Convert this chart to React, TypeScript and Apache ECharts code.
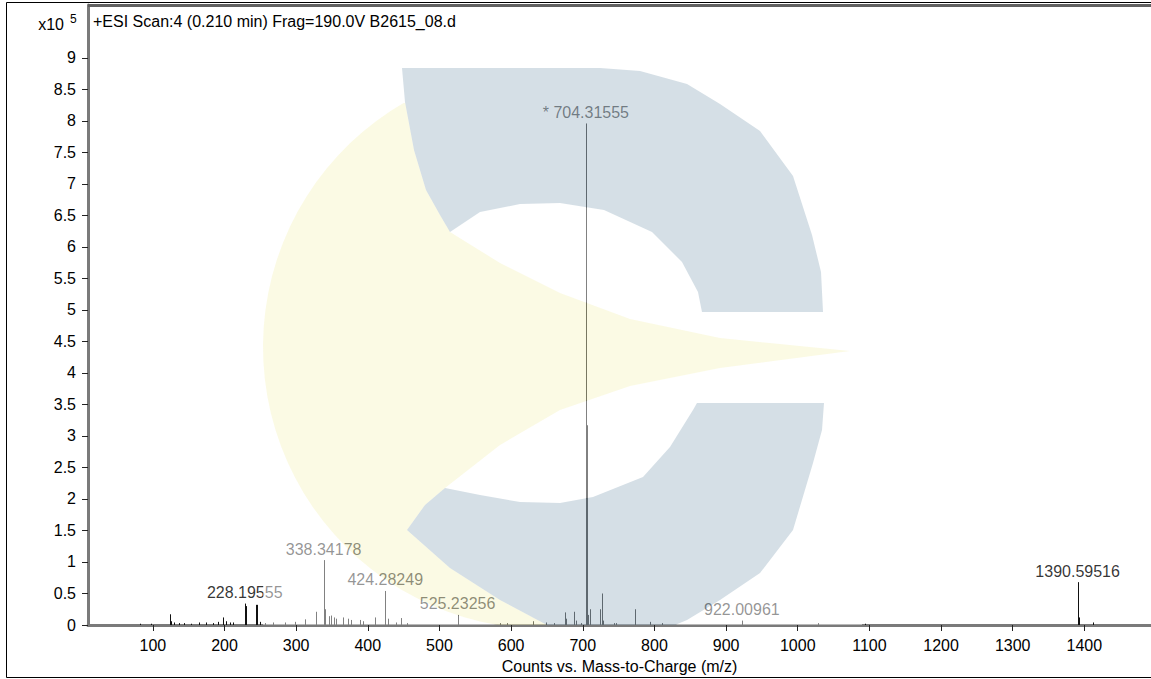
import React, { useEffect, useRef } from "react";
import * as echarts from "echarts";

// m/z positions of the centroid peaks and their intensities (x10^5 counts)
const peakMz = [
  81.4, 97.8, 123.3, 125.7, 130, 137, 144, 153, 165, 174.6, 183.8, 190.8, 197.8, 202.5, 207, 211.7,
  228.2, 230.2, 243.4, 245.3, 249, 256, 267.6, 284, 298, 312, 328, 338.34, 340.8, 345.8, 349, 352.8,
  356, 365, 372, 377, 388.7, 393, 409.6, 424.28, 428, 440, 447, 454, 525.23, 584, 593.6, 630, 649, 660,
  675, 677, 688, 690, 697, 704.32, 705.3, 707.5, 710, 724.3, 726.7, 728.5, 744, 747, 772.3, 793.7, 810,
  922.01, 1028, 1094, 1390.6, 1391.6, 1392.6, 1412,
];
const peakIntensity = [
  0.02, 0.02, 0.17, 0.06, 0.04, 0.03, 0.03, 0.02, 0.04, 0.04, 0.03, 0.05, 0.12, 0.06, 0.04, 0.04,
  0.34, 0.3, 0.32, 0.32, 0.05, 0.03, 0.04, 0.04, 0.05, 0.09, 0.21, 1.03, 0.25, 0.14, 0.15, 0.12,
  0.1, 0.12, 0.1, 0.08, 0.08, 0.06, 0.12, 0.54, 0.1, 0.04, 0.11, 0.03, 0.16, 0.03, 0.03, 0.06, 0.04, 0.03,
  0.2, 0.1, 0.21, 0.07, 0.03, 7.96, 3.17, 0.16, 0.25, 0.25, 0.5, 0.07, 0.03, 0.03, 0.25, 0.05, 0.03,
  0.07, 0.03, 0.02, 0.68, 0.57, 0.12, 0.04,
];

// labelled peaks
const labelMz = [228.2, 338.34, 424.28, 525.23, 704.32, 922.01, 1390.6];
const labelIntensity = [0.34, 1.03, 0.54, 0.16, 7.96, 0.07, 0.68];
const labelText = ["228.19555", "338.34178", "424.28249", "525.23256", "* 704.31555", "922.00961", "1390.59516"];

const yTicks = [0, 0.5, 1, 1.5, 2, 2.5, 3, 3.5, 4, 4.5, 5, 5.5, 6, 6.5, 7, 7.5, 8, 8.5, 9];
const xTicks = [100, 200, 300, 400, 500, 600, 700, 800, 900, 1000, 1100, 1200, 1300, 1400];

const titleText = "+ESI Scan:4 (0.210 min) Frag=190.0V B2615_08.d";
const xAxisName = "Counts vs. Mass-to-Charge (m/z)";

const FONT = 'Arial, "Liberation Sans", sans-serif';

// ---------- watermark decoration (pixel space) ----------
type P = number[];
function arc(cx: number, cy: number, r: number, a0: number, a1: number, n: number): P[] {
  const pts: P[] = [];
  for (let i = 0; i <= n; i++) {
    const a = ((a0 + ((a1 - a0) * i) / n) * Math.PI) / 180;
    pts.push([cx + r * Math.cos(a), cy + r * Math.sin(a)]);
  }
  return pts;
}
const box = [
  [263, 68],
  [862, 68],
  [862, 625],
  [263, 625],
];
const blueTopLeftEdge = [
  [405, 102],
  [414, 150],
  [426, 190],
  [440, 215],
  [450, 232],
];
const tailUpper = [
  [500, 263],
  [560, 293],
  [630, 319],
  [720, 338],
  [850, 351],
];
const tailLower = [
  [720, 368],
  [630, 386],
  [560, 410],
  [500, 445],
  [445, 488],
];
const blueBottomLeftEdge = [
  [425, 505],
  [407, 530],
  [450, 568],
  [500, 600],
  [547, 625],
];
const yellowShape: P[] = [
  ...blueTopLeftEdge,
  ...tailUpper,
  ...tailLower,
  ...blueBottomLeftEdge,
  ...arc(545, 347, 282, 99.6, 240.3, 40),
];
const blueTop: P[] = [
  [402, 68],
  [600, 68],
  [640, 71],
  [687, 84],
  [720, 104],
  [760, 131],
  [793, 176],
  [812, 235],
  [821, 272],
  [823, 312],
  [702, 312],
  [698, 292],
  [682, 262],
  [652, 232],
  [604, 210],
  [560, 203],
  [520, 204],
  [480, 212],
  ...blueTopLeftEdge.slice().reverse(),
];
const blueBottom: P[] = [
  [697, 403],
  [824, 403],
  [822, 430],
  [813, 463],
  [793, 530],
  [760, 573],
  [720, 600],
  [687, 620],
  [675, 625],
  ...blueBottomLeftEdge.slice().reverse(),
  [445, 488],
  [480, 495],
  [520, 502],
  [560, 503],
  [593, 497],
  [643, 477],
  [670, 447],
  [693, 410],
];
function area(pts: P[]) {
  let s = 0;
  for (let i = 0; i < pts.length; i++) {
    const a = pts[i];
    const b = pts[(i + 1) % pts.length];
    s += a[0] * b[1] - b[0] * a[1];
  }
  return s;
}
function sub(pts: P[], positive: boolean) {
  const pp = area(pts) > 0 === positive ? pts : pts.slice().reverse();
  return "M" + pp.map((p) => p[0].toFixed(1) + " " + p[1].toFixed(1)).join(" L") + " Z";
}
const whiteD = sub(box, true) + " " + sub(yellowShape, false) + " " + sub(blueTop, false) + " " + sub(blueBottom, false);
echarts.graphic.registerShape("wmWhiteVeil", echarts.graphic.extendPath(whiteD, {}));

export default function App() {
  const ref = useRef<HTMLDivElement>(null);
  useEffect(() => {
    if (!ref.current) return;
    const chart = echarts.init(ref.current, null, { renderer: "svg" });
    const bars = peakMz.map((m, i) => [m, peakIntensity[i]]);
    const labels = labelMz.map((m, i) => [m, labelIntensity[i], labelText[i]]);
    chart.setOption({
      animation: false,
      backgroundColor: "#fff",
      grid: { left: 88, right: 0, top: 5, bottom: 54, outerBoundsMode: "none", containLabel: false },
      xAxis: {
        type: "value",
        min: 9.5,
        max: 1493,
        name: xAxisName,
        nameLocation: "middle",
        nameGap: 33,
        nameTextStyle: { color: "#000", fontSize: 16, fontFamily: FONT },
        axisLine: { show: true, lineStyle: { color: "#7a7a7a", width: 3 } },
        axisTick: { show: true, length: 6, lineStyle: { color: "#222" }, customValues: xTicks },
        axisLabel: {
          color: "#000",
          fontSize: 16,
          fontFamily: FONT,
          margin: 12,
          customValues: xTicks,
          formatter: (v: number) => String(v),
        },
        splitLine: { show: false },
      },
      yAxis: {
        type: "value",
        min: 0,
        max: 9.84,
        axisLine: { show: true, lineStyle: { color: "#7a7a7a", width: 3 } },
        axisTick: { show: true, length: 6, lineStyle: { color: "#222" }, customValues: yTicks },
        axisLabel: {
          color: "#000",
          fontSize: 16,
          fontFamily: FONT,
          margin: 12,
          customValues: yTicks,
          formatter: (v: number) => String(v),
        },
        splitLine: { show: false },
      },
      series: [
        {
          type: "custom",
          data: bars,
          encode: { x: 0, y: 1 },
          renderItem: (params: any, api: any) => {
            const x = api.value(0);
            const y = api.value(1);
            const p0 = api.coord([x, 0]);
            const p1 = api.coord([x, y]);
            const px = Math.round(p0[0]) + 0.5;
            return {
              type: "line",
              shape: { x1: px, y1: p0[1], x2: px, y2: p1[1] },
              style: { stroke: "#111", lineWidth: 1 },
            };
          },
          z: 2,
        },
        {
          type: "scatter",
          data: labels,
          symbolSize: 0,
          silent: true,
          label: {
            show: true,
            position: "top",
            distance: 3,
            formatter: (p: any) => p.value[2],
            color: "#000",
            fontSize: 16,
            fontFamily: FONT,
          },
          z: 3,
        },
      ],
      graphic: [
        { type: "wmWhiteVeil", silent: true, z: 50, x: 0, y: 0, style: { fill: "rgba(255,255,255,0.47)" } },
        { type: "polygon", silent: true, z: 50, shape: { points: yellowShape }, style: { fill: "rgba(247,245,195,0.45)" } },
        { type: "polygon", silent: true, z: 50, shape: { points: blueTop }, style: { fill: "rgba(171,191,205,0.5)" } },
        { type: "polygon", silent: true, z: 50, shape: { points: blueBottom }, style: { fill: "rgba(171,191,205,0.5)" } },
        {
          type: "rect",
          silent: true,
          z: 60,
          shape: { x: 6.5, y: 2.5, width: 1160, height: 675 },
          style: { fill: "none", stroke: "#000", lineWidth: 1 },
        },
        {
          type: "line",
          silent: true,
          z: 60,
          shape: { x1: 88, y1: 5.5, x2: 1151, y2: 5.5 },
          style: { stroke: "#606060", lineWidth: 3 },
        },
        {
          type: "text",
          silent: true,
          z: 60,
          x: 93,
          y: 21,
          style: { text: titleText, fill: "#000", fontSize: 16, fontFamily: FONT, verticalAlign: "middle", align: "left" },
        },
        {
          type: "text",
          silent: true,
          z: 60,
          x: 64,
          y: 24,
          style: { text: "x10", fill: "#000", fontSize: 16, fontFamily: FONT, verticalAlign: "middle", align: "right" },
        },
        {
          type: "text",
          silent: true,
          z: 60,
          x: 70,
          y: 19,
          style: { text: "5", fill: "#000", fontSize: 12, fontFamily: FONT, verticalAlign: "middle", align: "left" },
        },
      ],
    });
    return () => chart.dispose();
  }, []);
  return <div ref={ref} style={{ position: "fixed", left: 0, top: 0, width: 1151, height: 679 }} />;
}
